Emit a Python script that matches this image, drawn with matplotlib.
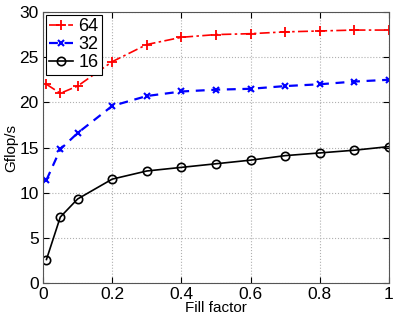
import matplotlib
matplotlib.use('Agg')
import matplotlib.pyplot as plt

fill = [0.01, 0.05, 0.1, 0.2, 0.3, 0.4, 0.5, 0.6, 0.7, 0.8, 0.9, 1.0]
g64 = [22.0, 21.0, 21.8, 24.5, 26.4, 27.2, 27.5, 27.6, 27.8, 27.9, 28.0, 28.0]
g32 = [11.4, 14.8, 16.6, 19.6, 20.7, 21.2, 21.4, 21.5, 21.8, 22.0, 22.3, 22.5]
g16 = [2.6, 7.3, 9.3, 11.5, 12.4, 12.8, 13.2, 13.6, 14.1, 14.4, 14.7, 15.1]

plt.rcParams['font.family'] = ['Liberation Sans', 'DejaVu Sans']

fig = plt.figure(figsize=(3.99, 3.21), dpi=100)
ax = fig.add_axes([43 / 399, 1 - 283 / 321, 346 / 399, 271 / 321])

ax.plot(fill, g64, color='red', linestyle=(0, (6, 2, 1.5, 2)), marker='+', markersize=7,
        markeredgewidth=1.3, linewidth=1.2, label='64')
ax.plot(fill, g32, color='blue', linestyle=(0, (4, 3)), marker='x', markersize=4.5,
        markeredgewidth=1.5, linewidth=1.6, label='32')
ax.plot(fill, g16, color='black', linestyle='-', marker='o', markersize=6,
        markerfacecolor='none', markeredgewidth=1.2, linewidth=1.2, label='16')

ax.set_xlim(0, 1)
ax.set_ylim(0, 30)
ax.set_xticks([0, 0.2, 0.4, 0.6, 0.8, 1])
ax.set_xticklabels(['0', '0.2', '0.4', '0.6', '0.8', '1'])
ax.set_yticks(range(0, 31, 5))
ax.tick_params(direction='in', top=True, right=True, labelsize=12.5, length=4, pad=3)
ax.grid(True, linestyle=':', color='#b0b0b0', linewidth=0.8)
for s in ax.spines.values():
    s.set_color('#555555')
ax.set_xlabel('Fill factor', fontsize=11, labelpad=-1)
ax.set_ylabel('Gflop/s', fontsize=11, labelpad=1)

leg = ax.legend(loc='upper left', fontsize=13, fancybox=False, framealpha=1,
                edgecolor='black', handlelength=1.3, borderaxespad=0.15,
                labelspacing=0.05, handletextpad=0.3, borderpad=0.2)
leg.get_frame().set_linewidth(0.8)

fig.savefig('out.png', dpi=100)
